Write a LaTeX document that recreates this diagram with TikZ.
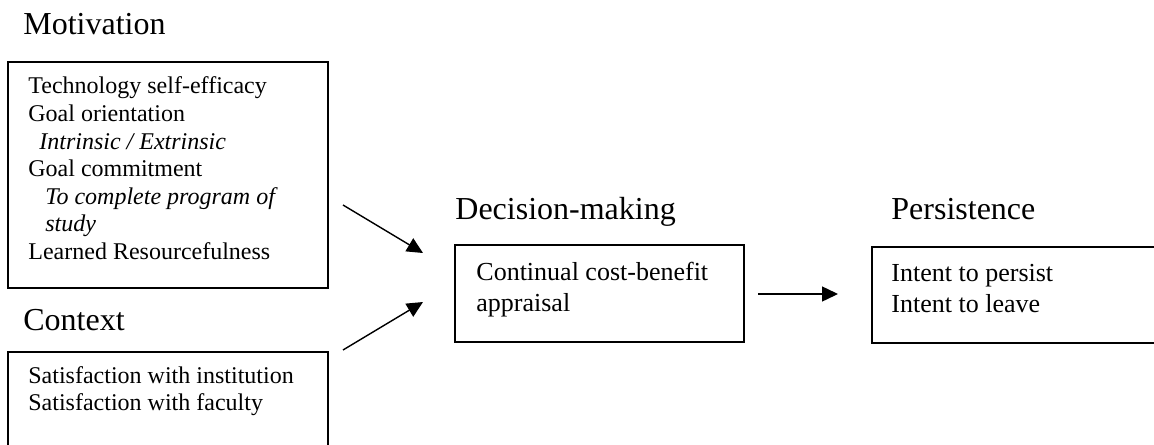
\documentclass[tikz,border=0pt]{standalone}
\usepackage{fontspec}
\setmainfont{Liberation Serif}
\usetikzlibrary{arrows.meta}
\begin{document}
\begin{tikzpicture}[x=0.5pt,y=-0.5pt,
  box/.style={draw=black,line width=1pt,rectangle,inner sep=0pt,anchor=north west},
  heading/.style={anchor=base west,inner sep=0pt,font=\fontsize{16pt}{18pt}\selectfont},
  lefttxt/.style={anchor=base west,inner sep=0pt,font=\fontsize{12pt}{14pt}\selectfont},
  righttxt/.style={anchor=base west,inner sep=0pt,font=\fontsize{13pt}{15pt}\selectfont},
  conn/.style={line width=0.7pt,-{Triangle[length=8pt,width=7.5pt]}}]
\useasboundingbox (0,0) rectangle (1154,444);
\fill[white] (0,0) rectangle (1154,444);
% headings
\node[heading] (hmot) at (23,35) {Motivation};
\node[heading] (hctx) at (23,330) {Context};
\node[heading] (hdec) at (455,219) {Decision-making};
\node[heading] (hper) at (891,219) {Persistence};
% boxes
\node[box,minimum width=160pt,minimum height=113pt] (mot) at (7,61) {};
\node[box,minimum width=160pt,minimum height=52pt] (ctx) at (7,351) {};
\node[box,minimum width=144.5pt,minimum height=48.5pt] (dec) at (454,244) {};
\node[box,minimum width=146pt,minimum height=48pt] (per) at (871,246) {};
% motivation text
\node[lefttxt] (m1) at (28,94) {Technology self-efficacy};
\node[lefttxt] (m2) at (28,121.5) {Goal orientation};
\node[lefttxt] (m3) at (39,149) {\itshape Intrinsic / Extrinsic};
\node[lefttxt] (m4) at (28,176.5) {Goal commitment};
\node[lefttxt] (m5) at (45,204) {\itshape To complete program of};
\node[lefttxt] (m6) at (45,231.5) {\itshape study};
\node[lefttxt] (m7) at (28,259) {Learned Resourcefulness};
% context text
\node[lefttxt] (c1) at (28,383) {Satisfaction with institution};
\node[lefttxt] (c2) at (28,410.5) {Satisfaction with faculty};
% decision text
\node[righttxt] (d1) at (476,280) {Continual cost-benefit};
\node[righttxt] (d2) at (476,311) {appraisal};
% persistence text
\node[righttxt] (p1) at (891,281) {Intent to persist};
\node[righttxt] (p2) at (891,312) {Intent to leave};
% arrows
\coordinate (a1s) at (343,205);
\coordinate (a1e) at (423,253);
\coordinate (a2s) at (343,350);
\coordinate (a2e) at (423,302);
\coordinate (a3s) at (758,294);
\coordinate (a3e) at (838,294);
\draw[conn] (a1s) -- (a1e);
\draw[conn] (a2s) -- (a2e);
\draw[conn] (a3s) -- (a3e);
\end{tikzpicture}
\end{document}
